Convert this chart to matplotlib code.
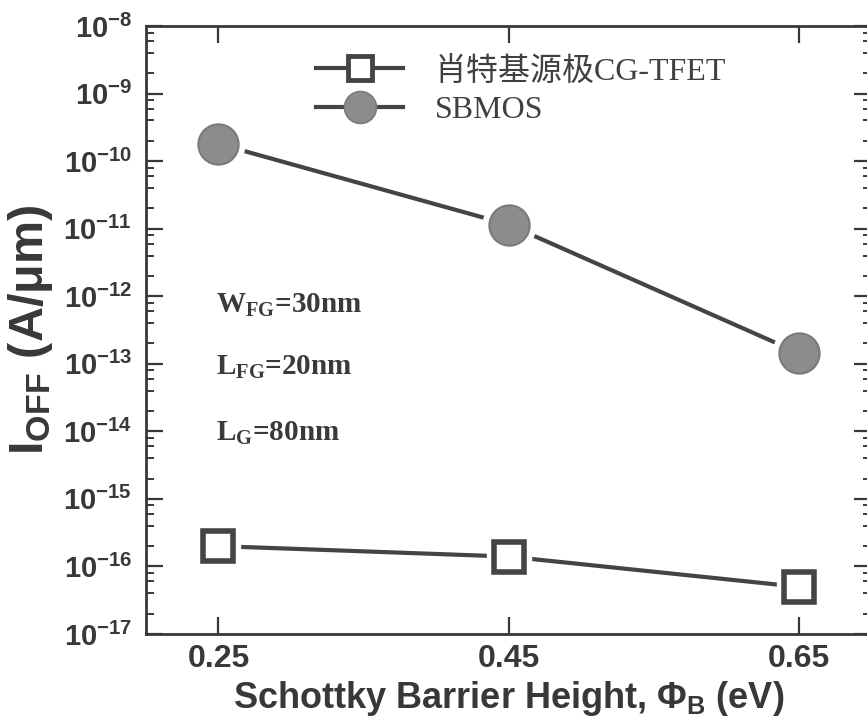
import matplotlib
matplotlib.use("Agg")
import matplotlib.pyplot as plt
from matplotlib.lines import Line2D
from matplotlib.ticker import LogLocator, NullFormatter

# barrier heights (eV)
barrier = [0.25, 0.45, 0.65]
# off current (A/um)
ioff_tfet = [2.0e-16, 1.4e-16, 5.0e-17]
ioff_sbmos = [1.8e-10, 1.15e-11, 1.45e-13]
series_names = ["肖特基源极CG-TFET", "SBMOS"]
xticks = [0.25, 0.45, 0.65]
notes = [r"W$_{\mathrm{FG}}$=30nm", r"L$_{\mathrm{FG}}$=20nm", r"L$_{\mathrm{G}}$=80nm"]

plt.rcParams['axes.unicode_minus'] = False
plt.rcParams['mathtext.fontset'] = 'custom'
plt.rcParams['mathtext.rm'] = 'Liberation Serif:bold'
plt.rcParams['mathtext.sf'] = 'Liberation Sans:bold'

ink = '#383838'
linecol = '#444444'

fig = plt.figure(figsize=(8.67, 7.21), dpi=100)
W, H = 867, 721
ax = fig.add_axes([146 / W, (H - 634) / H, 725 / W, 608 / H])

ax.plot(barrier, ioff_sbmos, color=linecol, lw=3, zorder=2)
ax.plot(barrier, ioff_tfet, color=linecol, lw=3, zorder=2)
# white halo so the lines stop short of the symbols
ax.plot(barrier, ioff_sbmos, 'o', ms=38, color='white', zorder=3)
ax.plot(barrier, ioff_tfet, 's', ms=32, color='white', zorder=3)
ax.plot(barrier, ioff_sbmos, 'o', ms=29, mfc='#8c8c8c', mec='#7a7a7a', mew=1.5, zorder=4)
ax.plot(barrier, ioff_tfet, 's', ms=22, mfc='white', mec='#444444', mew=4, zorder=4)

ax.set_yscale('log')
ax.set_ylim(1e-17, 1e-8)
ax.set_xlim(0.20, 0.70)
ax.set_xticks(xticks)
ax.set_xticklabels(['%.2f' % v for v in xticks])
ax.yaxis.set_major_locator(LogLocator(base=10, numticks=20))
ax.yaxis.set_minor_locator(LogLocator(base=10, subs=(2, 4, 6, 8), numticks=20))
ax.yaxis.set_minor_formatter(NullFormatter())

ax.tick_params(which='major', direction='in', length=12, width=1.6, top=True, right=True,
               labelcolor=ink, color=ink)
ax.tick_params(which='minor', direction='in', length=6, width=1.4, right=True, color=ink)
ax.tick_params(axis='y', which='major', pad=10, labelsize=21)
ax.tick_params(axis='x', which='major', pad=7, labelsize=23)
for lab in ax.get_xticklabels() + ax.get_yticklabels():
    lab.set_fontfamily('Liberation Sans')
    lab.set_fontweight('bold')
for sp in ax.spines.values():
    sp.set_linewidth(2)
    sp.set_color(ink)

ax.set_xlabel(r"Schottky Barrier Height, $\mathsf{\Phi_B}$ (eV)", fontsize=26,
              fontfamily='Liberation Sans', fontweight='bold', color=ink, labelpad=4)
ax.set_ylabel(r"$\mathsf{I_{OFF}}$ (A/μm)", fontsize=35,
              fontfamily='Liberation Sans', fontweight='bold', color=ink, labelpad=6)

handles = [
    Line2D([], [], color=linecol, lw=3, marker='s', ms=17, mfc='white', mec='#444444', mew=3.5),
    Line2D([], [], color=linecol, lw=3, marker='o', ms=23, mfc='#8c8c8c', mec='#7a7a7a', mew=1.2),
]
leg = ax.legend(handles, series_names, loc='upper left', bbox_to_anchor=(0.235, 0.95),
                frameon=False, handlelength=2.7, handletextpad=1.0, labelspacing=0.3,
                borderpad=0, borderaxespad=0,
                prop={'family': ['Liberation Serif', 'Noto Sans CJK SC'], 'size': 23})
for t in leg.get_texts():
    t.set_color('#404040')

note_y = [0.541, 0.439, 0.330]
for txt, yy in zip(notes, note_y):
    ax.text(0.097, yy, txt, transform=ax.transAxes, fontsize=21, va='center', ha='left',
            fontfamily='Liberation Serif', fontweight='bold', color='#3a3a3a')

fig.savefig('out.png', dpi=100)
